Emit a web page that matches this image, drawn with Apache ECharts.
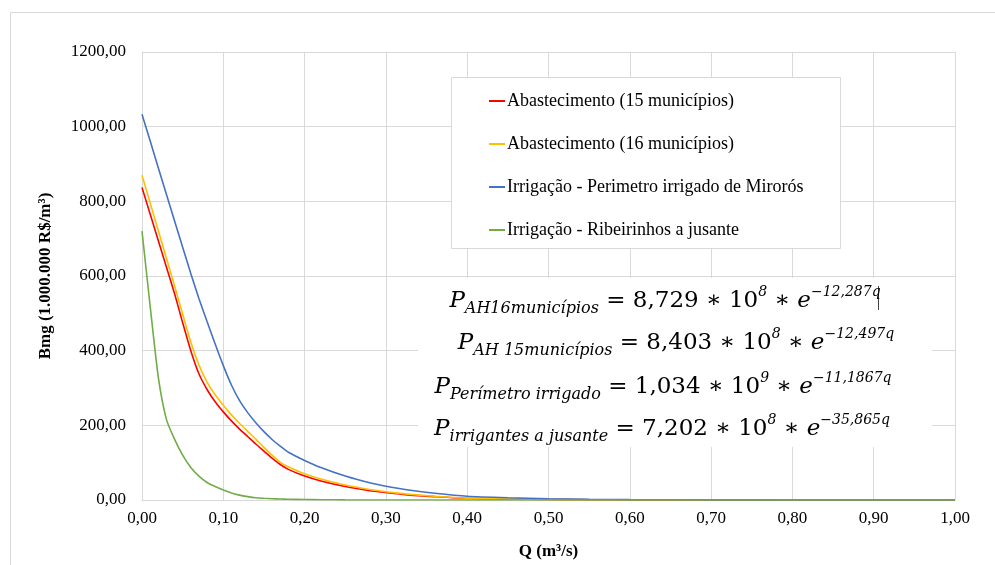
<!DOCTYPE html>
<html><head><meta charset="utf-8">
<script src="https://cdn.jsdelivr.net/npm/echarts@6/dist/echarts.min.js"></script>
<style>html,body{margin:0;padding:0;background:#fff}#c{width:995px;height:565px}</style>
</head><body><div id="c"></div>
<script>
// Q (m³/s) sample points
const qValues = [0, 0.01, 0.02, 0.03, 0.04, 0.05, 0.06, 0.07, 0.08, 0.09, 0.10, 0.11, 0.12, 0.13, 0.14, 0.15, 0.16, 0.17, 0.18, 0.20, 0.22, 0.25, 0.28, 0.30, 0.33, 0.36, 0.40, 0.45, 0.50, 0.55, 0.60, 0.70, 0.80, 0.90, 1.00];
// Bmg (1.000.000 R$/m³)
const abast15 = [837, 766, 695, 624, 553, 475, 400, 338, 296, 263, 236, 212, 190, 170, 150, 131, 112, 95, 82, 64, 51, 36, 25, 20, 13, 9, 4.5, 2.5, 1.3, 0.7, 0.3, 0.1, 0, 0, 0];
const abast16 = [870, 796, 722, 648, 574, 498, 423, 362, 316, 282, 254, 228, 205, 184, 163, 141, 120, 101, 89, 70, 56, 40, 28, 22, 15, 10, 5, 3, 1.5, 0.8, 0.4, 0.1, 0, 0, 0];
const perimetro = [1033, 962, 890, 819, 748, 677, 607, 540, 478, 418, 360, 308, 266, 234, 207, 183, 162, 144, 128, 106, 87, 64, 46, 37, 26, 18, 10, 6, 3.5, 1.8, 1, 0.4, 0.1, 0, 0];
const ribeirinhos = [720, 520, 330, 216, 163, 120, 87, 64, 47, 36, 27, 19, 13, 9, 6, 4.5, 3.5, 2.7, 2, 1.2, 0.7, 0.3, 0.1, 0, 0, 0, 0, 0, 0, 0, 0, 0, 0, 0, 0];

const seriesNames = ['Abastecimento (15 municípios)', 'Abastecimento (16 municípios)', 'Irrigação - Perimetro irrigado de Mirorós', 'Irrigação - Ribeirinhos a jusante'];
const seriesColors = ['#FF0000', '#FFC000', '#4472C4', '#70AD47'];
const seriesValues = [abast15, abast16, perimetro, ribeirinhos];

const xAxisTitle = 'Q (m³/s)';
const yAxisTitle = 'Bmg (1.000.000 R$/m³)';

// equations: [subscript, coefficient, power of ten, exponent]
const eqSubs = ['AH16municípios', 'AH 15municípios', 'Perímetro irrigado', 'irrigantes a jusante'];
const eqCoefs = ['8,729', '8,403', '1,034', '7,202'];
const eqPows = ['8', '8', '9', '8'];
const eqExps = ['−12,287q', '−12,497q', '−11,1867q', '−35,865q'];

const SERIF = 'Liberation Serif';
const MATH = 'DejaVu Serif';
const fmt = v => v.toFixed(2).replace('.', ',');

const chart = echarts.init(document.getElementById('c'), null, {renderer: 'canvas'});

const eqY = [301, 343, 387, 429];
const eqX = [665, 676, 663, 662];
const eqGraphics = eqSubs.map((s, i) => ({
  type: 'text', x: eqX[i], y: eqY[i], z: 20,
  style: {
    text: '{P|P}{sub|' + s + '}{n| = ' + eqCoefs[i] + ' ∗ 10}{sup|' + eqPows[i] + '}{n| ∗ }{e|e}{sup|' + eqExps[i] + '}',
    align: 'center', verticalAlign: 'middle',
    rich: {
      P: {fontFamily: MATH, fontStyle: 'italic', fontSize: 23, lineHeight: 32, fill: '#000'},
      sub: {fontFamily: MATH, fontStyle: 'italic', fontSize: 16, lineHeight: 14, verticalAlign: 'bottom', fill: '#000'},
      n: {fontFamily: MATH, fontSize: 23, lineHeight: 32, fill: '#000'},
      e: {fontFamily: MATH, fontStyle: 'italic', fontSize: 23, lineHeight: 32, fill: '#000'},
      sup: {fontFamily: MATH, fontStyle: 'italic', fontSize: 14, lineHeight: 20, verticalAlign: 'top', fill: '#000'}
    }
  }
}));

chart.setOption({
  animation: false,
  backgroundColor: '#fff',
  grid: {left: 142, right: 40, top: 52, bottom: 60},
  xAxis: {
    type: 'value', min: 0, max: 1, interval: 0.1,
    name: xAxisTitle, nameLocation: 'middle', nameGap: 43,
    nameTextStyle: {fontFamily: SERIF, fontSize: 17, fontWeight: 'bold', color: '#000'},
    axisLine: {show: true, lineStyle: {color: '#D9D9D9'}},
    axisTick: {show: false},
    axisLabel: {formatter: fmt, fontFamily: SERIF, fontSize: 17, color: '#000', margin: 10},
    splitLine: {show: true, lineStyle: {color: '#D9D9D9'}}
  },
  yAxis: {
    type: 'value', min: 0, max: 1200, interval: 200,
    name: yAxisTitle, nameLocation: 'middle', nameGap: 88, nameRotate: 90,
    nameTextStyle: {fontFamily: SERIF, fontSize: 17, fontWeight: 'bold', color: '#000'},
    axisLine: {show: true, lineStyle: {color: '#D9D9D9'}},
    axisTick: {show: false},
    axisLabel: {formatter: fmt, fontFamily: SERIF, fontSize: 17, color: '#000', margin: 16},
    splitLine: {show: true, lineStyle: {color: '#D9D9D9'}}
  },
  legend: {
    orient: 'vertical', left: 484, top: 87, itemGap: 25, z: 10,
    itemWidth: 16, itemHeight: 2, icon: 'rect',
    textStyle: {fontFamily: SERIF, fontSize: 18, color: '#000', padding: [0, 0, 0, -3]},
    data: seriesNames
  },
  graphic: [
    {type: 'rect', z: -1, silent: true, shape: {x: 10.5, y: 12.5, width: 1000, height: 600}, style: {fill: 'none', stroke: '#D9D9D9', lineWidth: 1}},
    {type: 'rect', z: 8, silent: true, shape: {x: 451.5, y: 77.5, width: 389, height: 171}, style: {fill: '#fff', stroke: '#D9D9D9', lineWidth: 1}},
    {type: 'rect', z: 8, silent: true, shape: {x: 418, y: 278, width: 514, height: 169}, style: {fill: '#fff'}},
    {type: 'rect', z: 20, silent: true, shape: {x: 878, y: 286, width: 1, height: 24}, style: {fill: '#444'}}
  ].concat(eqGraphics),
  series: seriesNames.map((name, i) => ({
    name: name, type: 'line', smooth: 0.2, symbol: 'none',
    lineStyle: {color: seriesColors[i], width: 1.6},
    itemStyle: {color: seriesColors[i]},
    data: qValues.map((q, j) => [q, seriesValues[i][j]])
  }))
});
</script>
</body></html>
